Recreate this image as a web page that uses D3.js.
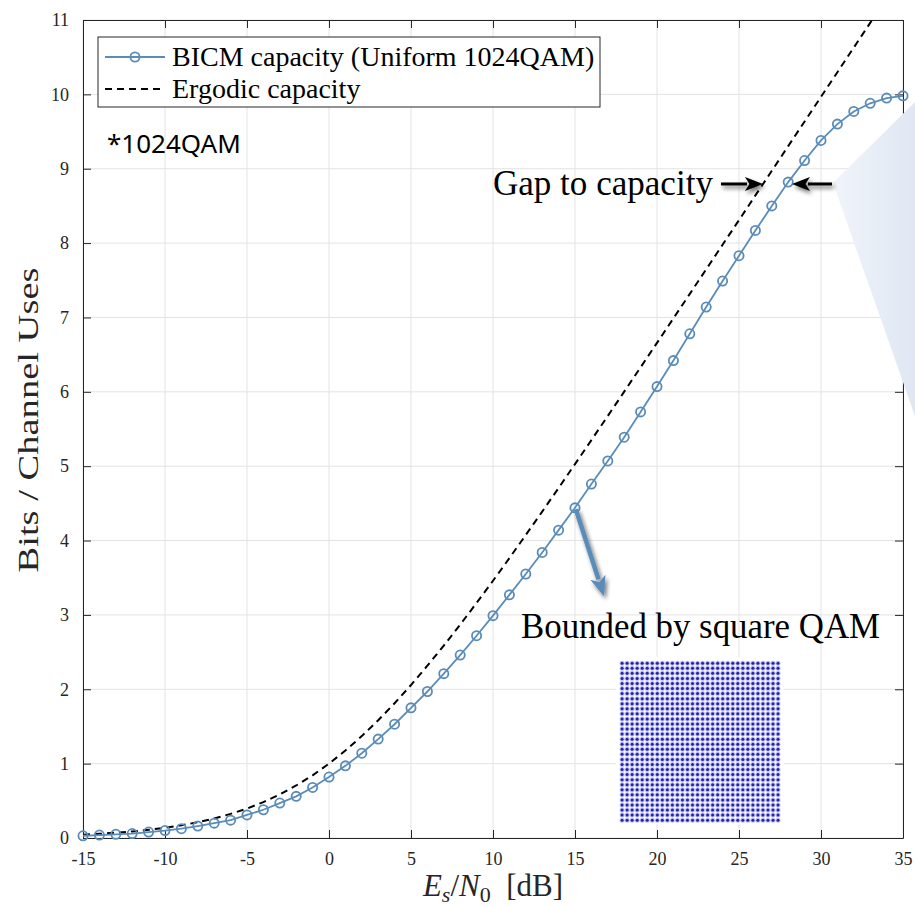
<!DOCTYPE html>
<html>
<head>
<meta charset="utf-8">
<script src="https://cdn.jsdelivr.net/npm/d3@7"></script>
<style>
  html, body { margin: 0; padding: 0; background: #fff; }
  svg { display: block; }
</style>
</head>
<body>
<svg id="chart" width="915" height="906"></svg>
<script>
// ---------- data ----------
const snrDb = [-15,-14,-13,-12,-11,-10,-9,-8,-7,-6,-5,-4,-3,-2,-1,0,1,2,3,4,5,6,7,8,9,10,
  11,12,13,14,15,16,17,18,19,20,21,22,23,24,25,26,27,28,29,30,31,32,33,34,35];
const bicmCapacity = [0.03,0.04,0.05,0.06,0.08,0.10,0.125,0.16,0.20,0.24,0.31,0.38,0.47,0.56,0.68,0.82,
  0.97,1.14,1.33,1.53,1.75,1.97,2.21,2.46,2.72,2.99,3.27,3.55,3.84,4.14,4.44,4.76,5.07,5.39,5.73,
  6.07,6.42,6.78,7.14,7.49,7.83,8.17,8.50,8.82,9.11,9.38,9.60,9.77,9.88,9.95,9.98];
const ergodicSnrDb = [-15,-14,-13,-12,-11,-10,-9,-8,-7,-6,-5,-4,-3,-2,-1,0,1,2,3,4,5,6,7,8,9,10,
  11,12,13,14,15,16,17,18,19,20,21,22,23,24,25,26,27,28,29,30,31,32,33,34];
const ergodicCapacity = [0.045,0.056,0.071,0.088,0.110,0.138,0.171,0.212,0.263,0.324,0.396,0.483,0.586,
  0.706,0.843,1.000,1.176,1.370,1.583,1.812,2.057,2.317,2.588,2.870,3.161,3.459,3.764,4.075,4.389,
  4.707,5.028,5.351,5.676,6.002,6.330,6.658,6.988,7.317,7.648,7.978,8.309,8.641,8.972,9.304,9.635,
  9.967,10.298,10.630,10.962,11.295];
const xTicks = [-15,-10,-5,0,5,10,15,20,25,30,35];
const yTicks = [0,1,2,3,4,5,6,7,8,9,10,11];
const legendLabels = ["BICM capacity (Uniform 1024QAM)", "Ergodic capacity"];
const qamLevels = [-31,-29,-27,-25,-23,-21,-19,-17,-15,-13,-11,-9,-7,-5,-3,-1,
  1,3,5,7,9,11,13,15,17,19,21,23,25,27,29,31];

// ---------- layout ----------
const plot = { left: 83, right: 903, top: 20, bottom: 838 };
const blue = "#5a8cba";
const axisColor = "#262626";
const serif = "'Liberation Serif', 'Times New Roman', serif";

const svg = d3.select("#chart");
const defs = svg.append("defs");

const x = d3.scaleLinear().domain([-15, 35]).range([plot.left, plot.right]);
const y = d3.scaleLinear().domain([0, 11]).range([plot.bottom, plot.top]);

// shadow filter
const f = defs.append("filter").attr("id", "shadow").attr("x", "-50%").attr("y", "-50%")
  .attr("width", "200%").attr("height", "200%");
f.append("feGaussianBlur").attr("in", "SourceAlpha").attr("stdDeviation", 2.2).attr("result", "b");
f.append("feOffset").attr("in", "b").attr("dx", 2).attr("dy", 3).attr("result", "o");
f.append("feComponentTransfer").attr("in", "o").attr("result", "o2")
  .append("feFuncA").attr("type", "linear").attr("slope", 0.55);
const fm = f.append("feMerge");
fm.append("feMergeNode").attr("in", "o2");
fm.append("feMergeNode").attr("in", "SourceGraphic");

const grad = defs.append("linearGradient").attr("id", "callout").attr("x1", "0").attr("x2", "1")
  .attr("y1", "0").attr("y2", "0");
grad.append("stop").attr("offset", "0").attr("stop-color", "#f0f4fa");
grad.append("stop").attr("offset", "1").attr("stop-color", "#e0e7f3");

defs.append("clipPath").attr("id", "plotClip").append("rect")
  .attr("x", plot.left).attr("y", plot.top)
  .attr("width", plot.right - plot.left).attr("height", plot.bottom - plot.top);

// grid
const grid = svg.append("g").attr("stroke", "#e3e3e3").attr("stroke-width", 1);
grid.selectAll("line.gx").data(xTicks).join("line")
  .attr("x1", d => x(d)).attr("x2", d => x(d)).attr("y1", plot.top).attr("y2", plot.bottom);
grid.selectAll("line.gy").data(yTicks).join("line")
  .attr("y1", d => y(d)).attr("y2", d => y(d)).attr("x1", plot.left).attr("x2", plot.right);

// axes (MATLAB box style, inward ticks on all sides)
const tickLen = 8;
const fmt = d => String(d);
const axB = svg.append("g").attr("transform", `translate(0,${plot.bottom})`)
  .call(d3.axisBottom(x).tickValues(xTicks).tickSizeInner(-tickLen).tickSizeOuter(0).tickPadding(14).tickFormat(fmt));
const axT = svg.append("g").attr("transform", `translate(0,${plot.top})`)
  .call(d3.axisTop(x).tickValues(xTicks).tickSizeInner(-tickLen).tickSizeOuter(0).tickFormat(""));
const axL = svg.append("g").attr("transform", `translate(${plot.left},0)`)
  .call(d3.axisLeft(y).tickValues(yTicks).tickSizeInner(-tickLen).tickSizeOuter(0).tickPadding(14).tickFormat(fmt));
const axR = svg.append("g").attr("transform", `translate(${plot.right},0)`)
  .call(d3.axisRight(y).tickValues(yTicks).tickSizeInner(-tickLen).tickSizeOuter(0).tickFormat(""));
[axB, axT, axL, axR].forEach(a => {
  a.attr("font-family", null);
  a.select(".domain").attr("stroke", axisColor).attr("stroke-width", 1);
  a.selectAll(".tick line").attr("stroke", axisColor).attr("stroke-width", 1);
  a.selectAll("text").attr("fill", axisColor).style("font-family", serif).style("font-size", "18px");
});
axB.selectAll("text").attr("dy", "0.71em");

// curves
const lineGen = d3.line().x(d => x(d[0])).y(d => y(d[1]));
const plotG = svg.append("g").attr("clip-path", "url(#plotClip)");
plotG.append("path")
  .datum(ergodicSnrDb.map((d, i) => [d, ergodicCapacity[i]]))
  .attr("d", lineGen).attr("fill", "none").attr("stroke", "#000")
  .attr("stroke-width", 2).attr("stroke-dasharray", "7,5");

const bicm = snrDb.map((d, i) => [d, bicmCapacity[i]]);
svg.append("path").datum(bicm).attr("d", lineGen).attr("fill", "none")
  .attr("stroke", blue).attr("stroke-width", 1.8);
svg.append("g").selectAll("circle").data(bicm).join("circle")
  .attr("cx", d => x(d[0])).attr("cy", d => y(d[1])).attr("r", 4.6)
  .attr("fill", "none").attr("stroke", blue).attr("stroke-width", 1.8);

// callout wedge (drawn over frame)
const wedge = [[30.73, 8.81], [35.75, 9.9], [35.75, 5.66]];
svg.append("path")
  .attr("d", "M" + wedge.map(p => [x(p[0]), y(p[1])].join(",")).join("L") + "Z")
  .attr("fill", "url(#callout)");

// legend
const lg = svg.append("g").attr("transform", `translate(${plot.left + 15},${plot.top + 17})`);
lg.append("rect").attr("width", 502).attr("height", 70).attr("fill", "#fff")
  .attr("stroke", axisColor).attr("stroke-width", 1);
lg.append("line").attr("x1", 7).attr("x2", 67).attr("y1", 20).attr("y2", 20)
  .attr("stroke", blue).attr("stroke-width", 1.8);
lg.append("circle").attr("cx", 37).attr("cy", 20).attr("r", 4.6).attr("fill", "none")
  .attr("stroke", blue).attr("stroke-width", 1.8);
lg.append("line").attr("x1", 7).attr("x2", 67).attr("y1", 52).attr("y2", 52)
  .attr("stroke", "#000").attr("stroke-width", 2).attr("stroke-dasharray", "7,5");
lg.selectAll("text").data(legendLabels).join("text")
  .attr("x", 74).attr("y", (d, i) => 29 + i * 32)
  .style("font-family", serif).style("font-size", "28px").attr("fill", "#000")
  .text(d => d);

// *1024QAM note
svg.append("text").attr("x", x(-13.54)).attr("y", y(9.21))
  .style("font-family", "'Noto Sans', sans-serif").style("font-size", "26px").attr("fill", "#000")
  .text("*1024QAM");

// gap annotation
svg.append("text").attr("x", x(23.41)).attr("y", y(8.65)).attr("text-anchor", "end")
  .attr("textLength", 220).attr("lengthAdjust", "spacingAndGlyphs")
  .style("font-family", serif).style("font-size", "36px").attr("fill", "#000")
  .text("Gap to capacity");

function arrow(from, to, color, width, headLen, headHalf) {
  const x0 = x(from[0]), y0 = y(from[1]), x1 = x(to[0]), y1 = y(to[1]);
  const ang = Math.atan2(y1 - y0, x1 - x0);
  const bx = x1 - headLen * Math.cos(ang), by = y1 - headLen * Math.sin(ang);
  const g = svg.append("g").attr("filter", "url(#shadow)");
  g.append("line").attr("x1", x0).attr("y1", y0).attr("x2", bx + 2 * Math.cos(ang)).attr("y2", by + 2 * Math.sin(ang))
    .attr("stroke", color).attr("stroke-width", width);
  const px = -Math.sin(ang), py = Math.cos(ang);
  g.append("path").attr("d",
    `M${x1},${y1}L${bx + px * headHalf},${by + py * headHalf}L${bx + headLen * 0.25 * Math.cos(ang)},${by + headLen * 0.25 * Math.sin(ang)}L${bx - px * headHalf},${by - py * headHalf}Z`)
    .attr("fill", color);
}
arrow([23.9, 8.795], [26.46, 8.795], "#000", 3, 18, 7);
arrow([30.67, 8.795], [28.23, 8.795], "#000", 3, 18, 7);
arrow([15.05, 4.42], [16.77, 3.25], blue, 4.5, 20, 8);

svg.append("text").attr("x", x(11.71)).attr("y", y(2.69))
  .attr("textLength", 359).attr("lengthAdjust", "spacingAndGlyphs")
  .style("font-family", serif).style("font-size", "36px").attr("fill", "#000")
  .text("Bounded by square QAM");

// constellation inset
const qx = d3.scaleLinear().domain([-31, 31]).range([x(17.87), x(27.38)]);
const qy = d3.scaleLinear().domain([-31, 31]).range([y(0.24), y(2.35)]);
svg.append("rect").attr("x", qx(-31) - 6).attr("y", qy(31) - 6)
  .attr("width", qx(31) - qx(-31) + 12).attr("height", qy(-31) - qy(31) + 10).attr("fill", "#fff");
const pts = [];
qamLevels.forEach(a => qamLevels.forEach(b => pts.push([a, b])));
const cg = svg.append("g");
cg.selectAll("circle.h").data(pts).join("circle").attr("class", "h")
  .attr("cx", d => qx(d[0])).attr("cy", d => qy(d[1])).attr("r", 2.5)
  .attr("fill", "#8a8ae6").attr("opacity", 0.55);
cg.selectAll("circle.c").data(pts).join("circle").attr("class", "c")
  .attr("cx", d => qx(d[0])).attr("cy", d => qy(d[1])).attr("r", 1.5)
  .attr("fill", "#2424a8");

// axis labels
svg.append("text")
  .attr("transform", `translate(${38},${420}) rotate(-90)`)
  .attr("text-anchor", "middle")
  .attr("textLength", 305).attr("lengthAdjust", "spacingAndGlyphs")
  .style("font-family", serif).style("font-size", "30px").attr("fill", axisColor)
  .text("Bits / Channel Uses");

const xl = svg.append("text").attr("x", x(10)).attr("y", 896).attr("text-anchor", "middle")
  .style("font-family", serif).style("font-size", "31px").attr("fill", axisColor);
xl.append("tspan").style("font-style", "italic").text("E");
xl.append("tspan").style("font-style", "italic").style("font-size", "22px").attr("dy", 6).text("s");
xl.append("tspan").attr("dy", -6).text("/");
xl.append("tspan").style("font-style", "italic").text("N");
xl.append("tspan").style("font-size", "22px").attr("dy", 6).text("0");
xl.append("tspan").attr("dy", -6).text("\u00a0\u00a0[dB]");
</script>
</body>
</html>
